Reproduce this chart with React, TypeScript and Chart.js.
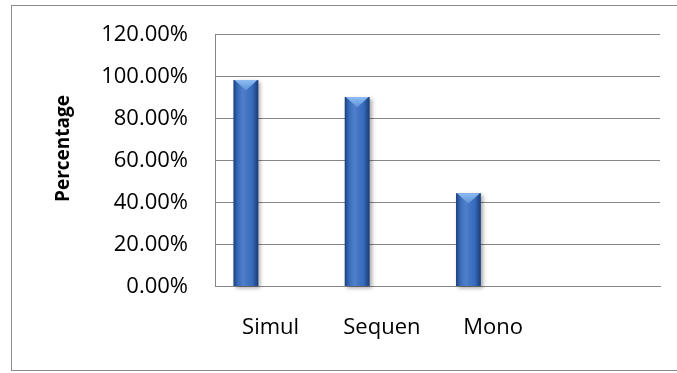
import { useEffect, useRef } from "react";
import { Chart, registerables } from "chart.js";

Chart.register(...registerables);

// Categories along the x axis (the last slot is intentionally blank)
const categories = ["Simul", "Sequen", "Mono", ""];
// Percentage values of the plotted series
const percentages: (number | null)[] = [98.3, 90.2, 44.4, null];
// Two further series slots in each group that carry no data
const emptySeriesA: (number | null)[] = [null, null, null, null];
const emptySeriesB: (number | null)[] = [null, null, null, null];
// Y axis tick values
const yTicks = [0, 20, 40, 60, 80, 100, 120];
const yTitle = "Percentage";

const FONT = "'Open Sans', 'Liberation Sans', sans-serif";
const GRID = "#868686";

// Outer frame around the whole chart
const framePlugin = {
  id: "frame",
  beforeDraw(chart: Chart) {
    const { ctx } = chart;
    ctx.save();
    ctx.fillStyle = "#ffffff";
    ctx.fillRect(0, 0, chart.width, chart.height);
    ctx.strokeStyle = "#8c8c8c";
    ctx.lineWidth = 1;
    ctx.strokeRect(11.5, 5.5, chart.width, 365);
    ctx.restore();
  },
};

// Rotated, bold axis title on the left
const yTitlePlugin = {
  id: "yTitle",
  afterDraw(chart: Chart) {
    const { ctx } = chart;
    ctx.save();
    ctx.translate(64, 148.5);
    ctx.rotate(-Math.PI / 2);
    ctx.font = `bold 19px ${FONT}`;
    ctx.fillStyle = "#000000";
    ctx.textAlign = "center";
    ctx.textBaseline = "middle";
    ctx.fillText(yTitle, 0, 0);
    ctx.restore();
  },
};

// Drop shadow plus cylinder shading and bevelled top on each bar
const barStylePlugin = {
  id: "barStyle",
  beforeDatasetsDraw(chart: Chart) {
    const { ctx } = chart;
    ctx.save();
    ctx.shadowColor = "rgba(0,0,0,0.35)";
    ctx.shadowBlur = 4;
    ctx.shadowOffsetX = 2;
    ctx.shadowOffsetY = 2;
  },
  afterDatasetsDraw(chart: Chart) {
    const { ctx } = chart;
    ctx.restore();
    chart.data.datasets.forEach((ds, di) => {
      const meta = chart.getDatasetMeta(di);
      meta.data.forEach((el: any, i: number) => {
        if (ds.data[i] == null) return;
        const { x, y, width, base } = el.getProps(["x", "y", "width", "base"], true);
        const left = x - width / 2;
        const right = x + width / 2;
        const g = ctx.createLinearGradient(left, 0, right, 0);
        g.addColorStop(0, "rgba(8,30,75,0.6)");
        g.addColorStop(0.14, "rgba(8,30,75,0.15)");
        g.addColorStop(0.4, "rgba(255,255,255,0.1)");
        g.addColorStop(0.75, "rgba(8,30,75,0.06)");
        g.addColorStop(1, "rgba(8,30,75,0.65)");
        ctx.save();
        ctx.fillStyle = g;
        ctx.fillRect(left, y, width, base - y);
        const depth = width * 0.42;
        const tg = ctx.createLinearGradient(0, y, 0, y + depth);
        tg.addColorStop(0, "#8fbcf2");
        tg.addColorStop(1, "#5c90d8");
        ctx.beginPath();
        ctx.moveTo(left + 1, y);
        ctx.lineTo(right - 1, y);
        ctx.lineTo(x, y + depth);
        ctx.closePath();
        ctx.fillStyle = tg;
        ctx.fill();
        ctx.restore();
      });
    });
  },
};

export default function App() {
  const canvasRef = useRef<HTMLCanvasElement | null>(null);

  useEffect(() => {
    if (!canvasRef.current) return;
    const chart = new Chart(canvasRef.current, {
      type: "bar",
      data: {
        labels: categories,
        datasets: [
          { label: "Series1", data: percentages, backgroundColor: "#3b71c4", clip: false as any },
          { label: "Series2", data: emptySeriesA, backgroundColor: "#c0504d" },
          { label: "Series3", data: emptySeriesB, backgroundColor: "#9bbb59" },
        ],
      },
      options: {
        animation: false,
        responsive: false,
        devicePixelRatio: 1,
        layout: { padding: { left: 0, top: 34.5, right: 17, bottom: 0 } },
        datasets: { bar: { categoryPercentage: 2 / 3, barPercentage: 1 } },
        plugins: {
          legend: { display: false },
          tooltip: { enabled: false },
          title: { display: false },
        },
        scales: {
          x: {
            grid: { display: false, drawTicks: false },
            border: { display: true, color: GRID, width: 1 },
            ticks: {
              color: "#000000",
              font: { family: FONT, size: 22 },
              padding: 28,
              maxRotation: 0,
              autoSkip: false,
            },
            afterFit: (s: any) => {
              s.height = 373 - 286.5;
            },
          },
          y: {
            min: 0,
            max: 120,
            afterBuildTicks: (s: any) => {
              s.ticks = yTicks.map((v) => ({ value: v }));
            },
            grid: {
              color: GRID,
              lineWidth: 1,
              drawTicks: true,
              tickLength: 27,
              tickColor: "rgba(0,0,0,0)",
            },
            border: { display: true, color: GRID, width: 1 },
            ticks: {
              color: "#000000",
              font: { family: FONT, size: 22 },
              padding: 0,
              callback: (v: any) => `${Number(v).toFixed(2)}%`,
            },
            afterFit: (s: any) => {
              s.width = 215;
            },
          },
        },
      },
      plugins: [framePlugin, barStylePlugin, yTitlePlugin],
    });
    return () => chart.destroy();
  }, []);

  return (
    <div style={{ position: "absolute", left: 0, top: 0, width: 677, height: 373 }}>
      <canvas ref={canvasRef} width={677} height={373} style={{ display: "block" }} />
    </div>
  );
}
